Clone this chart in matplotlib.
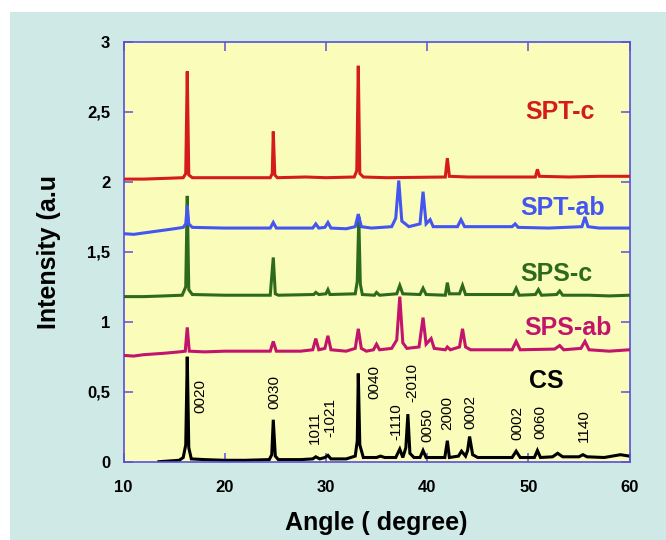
import matplotlib
matplotlib.use("Agg")
import matplotlib.pyplot as plt
from matplotlib.patches import Rectangle

# --- data (angle in degree, intensity in a.u.) ---
cs_angle = [13.5, 14.5, 15.5, 15.9, 16.15, 16.3, 16.45, 16.7, 18.0, 20.0, 22.0, 24.4,
            24.65, 24.8, 25.0, 25.3, 27.5, 28.7, 29.0, 29.4, 29.9, 30.2, 30.5, 32.0,
            32.9, 33.1, 33.2, 33.35, 33.7, 35.0, 35.4, 35.8, 36.9, 37.3, 37.6, 37.9,
            38.1, 38.3, 38.7, 39.3, 39.6, 39.9, 41.75, 42.0, 42.2, 43.1, 43.4, 43.8,
            44.0, 44.2, 44.5, 45.0, 48.4, 48.8, 49.2, 50.6, 50.9, 51.2, 52.4, 52.9,
            53.4, 55.0, 55.4, 55.8, 57.5, 59.1, 60.0]
cs_int = [0.00, 0.005, 0.01, 0.03, 0.12, 0.75, 0.10, 0.02, 0.015, 0.01, 0.01, 0.015,
          0.05, 0.30, 0.04, 0.015, 0.015, 0.02, 0.035, 0.02, 0.03, 0.045, 0.02, 0.02,
          0.04, 0.15, 0.63, 0.12, 0.03, 0.03, 0.04, 0.03, 0.03, 0.09, 0.03, 0.10,
          0.34, 0.06, 0.03, 0.03, 0.08, 0.03, 0.03, 0.15, 0.03, 0.04, 0.075, 0.04,
          0.08, 0.18, 0.05, 0.03, 0.03, 0.075, 0.03, 0.03, 0.08, 0.03, 0.035, 0.06,
          0.035, 0.035, 0.05, 0.035, 0.03, 0.05, 0.04]

spsab_angle = [10.0, 11.0, 12.0, 13.0, 14.0, 15.5, 16.1, 16.3, 16.5, 18.0, 20.0, 22.0,
               24.5, 24.8, 25.1, 27.5, 28.7, 29.0, 29.3, 29.9, 30.2, 30.5, 32.0, 32.9,
               33.2, 33.5, 34.0, 34.7, 35.0, 35.3, 36.5, 37.0, 37.3, 37.6, 38.0, 39.2,
               39.6, 39.9, 40.4, 40.7, 41.8, 42.0, 42.3, 43.2, 43.5, 43.8, 44.3, 48.4,
               48.8, 49.2, 52.6, 53.1, 53.5, 55.2, 55.6, 56.0, 58.0, 60.0]
spsab_int = [0.76, 0.755, 0.765, 0.77, 0.775, 0.785, 0.79, 0.96, 0.79, 0.785, 0.79, 0.79,
             0.79, 0.86, 0.79, 0.79, 0.80, 0.88, 0.80, 0.81, 0.90, 0.80, 0.79, 0.81,
             0.95, 0.81, 0.79, 0.80, 0.84, 0.80, 0.81, 0.87, 1.18, 0.85, 0.81, 0.82,
             1.03, 0.84, 0.88, 0.81, 0.80, 0.82, 0.80, 0.82, 0.95, 0.82, 0.80, 0.80,
             0.86, 0.80, 0.805, 0.83, 0.80, 0.81, 0.86, 0.80, 0.79, 0.80]

spsc_angle = [10.0, 12.0, 14.0, 15.8, 16.15, 16.3, 16.45, 16.8, 20.0, 24.5, 24.8, 25.0,
              25.3, 28.8, 29.0, 29.3, 30.0, 30.2, 30.4, 32.9, 33.1, 33.25, 33.4, 33.6,
              34.8, 35.0, 35.3, 37.0, 37.3, 37.6, 39.3, 39.6, 39.9, 41.8, 42.0, 42.2,
              43.2, 43.5, 43.8, 48.5, 48.8, 49.1, 50.7, 51.0, 51.3, 52.8, 53.1, 53.4,
              56.0, 58.0, 60.0]
spsc_int = [1.18, 1.18, 1.185, 1.19, 1.25, 1.90, 1.23, 1.195, 1.19, 1.19, 1.46, 1.20,
            1.19, 1.195, 1.21, 1.195, 1.20, 1.23, 1.195, 1.20, 1.29, 1.75, 1.27, 1.195,
            1.19, 1.21, 1.19, 1.20, 1.26, 1.20, 1.195, 1.24, 1.195, 1.19, 1.28, 1.20,
            1.20, 1.26, 1.195, 1.195, 1.24, 1.19, 1.195, 1.23, 1.19, 1.195, 1.22, 1.19,
            1.19, 1.185, 1.19]

sptab_angle = [10.0, 11.0, 12.0, 13.0, 14.0, 15.0, 15.9, 16.15, 16.3, 16.45, 16.8, 20.0,
               24.5, 24.8, 25.1, 28.7, 29.0, 29.3, 29.9, 30.2, 30.5, 32.0, 32.9, 33.2,
               33.5, 34.5, 36.5, 36.9, 37.2, 37.5, 38.2, 39.3, 39.6, 39.9, 40.3, 40.6,
               41.5, 43.0, 43.35, 43.7, 44.2, 48.4, 48.7, 49.0, 52.0, 55.3, 55.6, 55.9,
               57.0, 60.0]
sptab_int = [1.63, 1.625, 1.635, 1.645, 1.655, 1.665, 1.675, 1.70, 1.83, 1.70, 1.675, 1.67,
             1.67, 1.71, 1.67, 1.67, 1.70, 1.67, 1.675, 1.71, 1.67, 1.665, 1.68, 1.77,
             1.68, 1.67, 1.68, 1.74, 2.01, 1.72, 1.68, 1.70, 1.93, 1.70, 1.73, 1.68,
             1.68, 1.68, 1.73, 1.68, 1.68, 1.68, 1.70, 1.675, 1.67, 1.68, 1.75, 1.68,
             1.67, 1.67]

sptc_angle = [10.0, 12.0, 14.0, 15.9, 16.15, 16.3, 16.45, 16.8, 20.0, 24.5, 24.7, 24.8,
              24.95, 25.2, 28.0, 30.0, 32.8, 33.05, 33.2, 33.35, 33.7, 36.0, 41.8, 42.0,
              42.2, 44.0, 50.7, 50.9, 51.1, 54.0, 57.0, 60.0]
sptc_int = [2.02, 2.02, 2.025, 2.03, 2.06, 2.79, 2.05, 2.03, 2.03, 2.03, 2.06, 2.36,
            2.05, 2.03, 2.035, 2.03, 2.035, 2.08, 2.83, 2.06, 2.035, 2.03, 2.035, 2.17,
            2.04, 2.035, 2.035, 2.09, 2.04, 2.035, 2.04, 2.04]

series_labels = ["CS", "SPS-ab", "SPS-c", "SPT-ab", "SPT-c"]
series_colors = ["#000000", "#C2146C", "#2E6A1C", "#4455F0", "#D41C1C"]
label_x = [51.8, 53.9, 52.8, 53.4, 53.1]
label_y = [0.58, 0.955, 1.34, 1.81, 2.50]

peak_names = ["0020", "0030", "1011", "-1021", "0040", "-1110", "-2010", "0050",
              "2000", "0002", "0002", "0060", "1140"]
peak_x = [17.55, 24.9, 28.95, 30.4, 34.75, 37.0, 38.5, 40.0, 41.95, 44.3, 48.9, 51.2, 55.5]
peak_y = [0.345, 0.38, 0.13, 0.175, 0.45, 0.155, 0.43, 0.14, 0.23, 0.235, 0.155, 0.16, 0.14]

xticks = [10, 20, 30, 40, 50, 60]
yticks = [0, 0.5, 1, 1.5, 2, 2.5, 3]
ytick_labels = ["0", "0,5", "1", "1,5", "2", "2,5", "3"]

plt.rcParams['font.family'] = ['Liberation Sans', 'DejaVu Sans']

fig = plt.figure(figsize=(6.66, 5.40), dpi=100, facecolor="white")
# light cyan panel behind the chart
fig.patches.append(Rectangle((10 / 666, 0), 1, 1 - 12 / 540, transform=fig.transFigure,
                             facecolor="#CFEAE6", edgecolor="none", zorder=-1))

ax = fig.add_axes([123.5 / 666, 1 - 461.7 / 540, 506 / 666, 419.7 / 540])
ax.set_facecolor("#FAFDBA")

curves = [(cs_angle, cs_int), (spsab_angle, spsab_int), (spsc_angle, spsc_int),
          (sptab_angle, sptab_int), (sptc_angle, sptc_int)]
for i, (xs, ys) in enumerate(curves):
    ax.plot(xs, ys, color=series_colors[i], lw=2.2, solid_joinstyle="miter", zorder=2 + i)
    ax.text(label_x[i], label_y[i], series_labels[i], color=series_colors[i],
            fontsize=18, fontweight="bold", ha="center", va="center", zorder=10)

for name, px, py in zip(peak_names, peak_x, peak_y):
    ax.text(px, py, name, rotation=90, ha="center", va="bottom", fontsize=11,
            fontweight="medium", zorder=10)

ax.set_xlim(10, 60)
ax.set_ylim(0, 3)
ax.set_xticks(xticks)
ax.set_yticks(yticks)
ax.set_yticklabels(ytick_labels)

spine_col = "#5A50D8"
for s in ax.spines.values():
    s.set_color(spine_col)
    s.set_linewidth(1.2)
ax.tick_params(direction="in", top=True, right=True, length=6.5, width=1.1,
               color=spine_col, labelsize=12)
ax.tick_params(axis="x", pad=13)
ax.tick_params(axis="y", pad=9.5)
for lab in ax.get_xticklabels() + ax.get_yticklabels():
    lab.set_fontweight("bold")

ax.set_xlabel("Angle ( degree)", fontsize=18, fontweight="bold", labelpad=12)
ax.set_ylabel("Intensity (a.u", fontsize=18, fontweight="bold", labelpad=19)

fig.savefig("out.png", dpi=100, facecolor="white")
